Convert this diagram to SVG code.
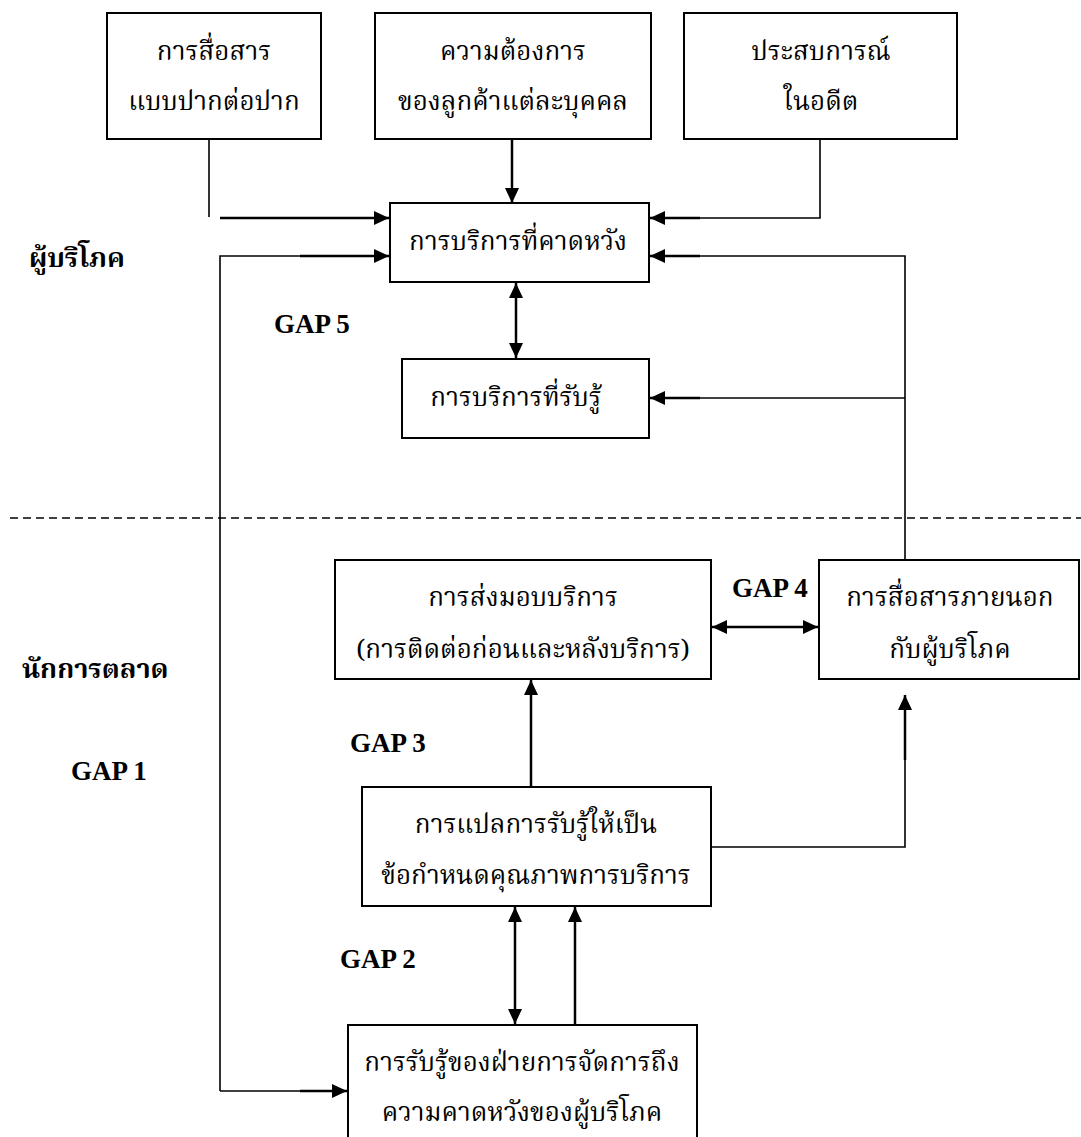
<svg xmlns="http://www.w3.org/2000/svg" width="1081" height="1137" viewBox="0 0 1081 1137">
<style>
.box{fill:#fff;stroke:#000;stroke-width:2}
.t{font-family:'Noto Serif Thai','Noto Sans Thai','Loma','Garuda','Liberation Serif',serif;font-size:26px;fill:#000;text-anchor:middle}
.lb{font-family:'Noto Serif Thai','Noto Sans Thai','Loma','Garuda','Liberation Serif',serif;font-size:27px;font-weight:bold;fill:#000}
.gap{font-family:'Liberation Serif',serif;font-size:27px;font-weight:bold;fill:#000}
.c{fill:none;stroke:#000;stroke-width:2.5}
.thin{fill:none;stroke:#000;stroke-width:1.6}
</style>
<defs>
<marker id="ah" markerUnits="userSpaceOnUse" markerWidth="15" markerHeight="14" refX="15" refY="7" orient="auto-start-reverse" viewBox="0 0 15 14">
<path d="M0,0 L15,7 L0,14 z" fill="#000"/>
</marker>
</defs>
<line x1="10" y1="518" x2="1081" y2="518" stroke="#000" stroke-width="1.5" stroke-dasharray="8 5"/>
<g id="labels">
<text class="lb" x="29" y="267">ผู้บริโภค</text>
<text class="lb" x="22" y="678">นักการตลาด</text>
<text class="gap" x="274" y="333">GAP 5</text>
<text class="gap" x="732" y="597">GAP 4</text>
<text class="gap" x="350" y="752">GAP 3</text>
<text class="gap" x="71" y="780">GAP 1</text>
<text class="gap" x="340" y="968">GAP 2</text>
</g>
<g id="connectors">
<line class="thin" x1="209" y1="139" x2="209" y2="217"/>
<line class="c" x1="220" y1="218" x2="389" y2="218" marker-end="url(#ah)"/>
<line class="c" x1="512" y1="139" x2="512" y2="203" marker-end="url(#ah)"/>
<polyline class="thin" points="820,139 820,218 700,218"/>
<line class="c" x1="700" y1="218" x2="650" y2="218" marker-end="url(#ah)"/>
<polyline class="thin" points="220,1091 220,256 300,256"/>
<line class="c" x1="300" y1="256" x2="389" y2="256" marker-end="url(#ah)"/>
<line class="thin" x1="220" y1="1091" x2="300" y2="1091"/>
<line class="c" x1="300" y1="1091" x2="347" y2="1091" marker-end="url(#ah)"/>
<polyline class="thin" points="905,560 905,256 700,256"/>
<line class="c" x1="700" y1="256" x2="650" y2="256" marker-end="url(#ah)"/>
<line class="thin" x1="905" y1="398" x2="700" y2="398"/>
<line class="c" x1="700" y1="398" x2="650" y2="398" marker-end="url(#ah)"/>
<line class="c" x1="516" y1="283" x2="516" y2="358" marker-start="url(#ah)" marker-end="url(#ah)"/>
<line class="c" x1="712" y1="627" x2="818" y2="627" marker-start="url(#ah)" marker-end="url(#ah)"/>
<line class="c" x1="531" y1="786" x2="531" y2="680" marker-end="url(#ah)"/>
<polyline class="thin" points="712,847 905,847 905,760"/>
<line class="c" x1="905" y1="760" x2="905" y2="695" marker-end="url(#ah)"/>
<line class="c" x1="515" y1="907" x2="515" y2="1024" marker-start="url(#ah)" marker-end="url(#ah)"/>
<line class="c" x1="575" y1="1024" x2="575" y2="907" marker-end="url(#ah)"/>
</g>
<g id="n-wordofmouth">
<rect class="box" x="107" y="13" width="214" height="126"/>
<text class="t" x="214" y="60">การสื่อสาร</text>
<text class="t" x="214" y="110">แบบปากต่อปาก</text>
</g>
<g id="n-needs">
<rect class="box" x="375" y="13" width="276" height="126"/>
<text class="t" x="513" y="60">ความต้องการ</text>
<text class="t" x="513" y="110">ของลูกค้าแต่ละบุคคล</text>
</g>
<g id="n-past">
<rect class="box" x="684" y="13" width="273" height="126"/>
<text class="t" x="821" y="60">ประสบการณ์</text>
<text class="t" x="821" y="110">ในอดีต</text>
</g>
<g id="n-expected">
<rect class="box" x="390" y="203" width="259" height="79"/>
<text class="t" x="518" y="250">การบริการที่คาดหวัง</text>
</g>
<g id="n-perceived">
<rect class="box" x="402" y="359" width="247" height="79"/>
<text class="t" x="516" y="406">การบริการที่รับรู้</text>
</g>
<g id="n-delivery">
<rect class="box" x="335" y="560" width="376" height="119"/>
<text class="t" x="523" y="606">การส่งมอบบริการ</text>
<text class="t" x="523" y="658">(การติดต่อก่อนและหลังบริการ)</text>
</g>
<g id="n-external">
<rect class="box" x="819" y="560" width="260" height="119"/>
<text class="t" x="950" y="606">การสื่อสารภายนอก</text>
<text class="t" x="950" y="658">กับผู้บริโภค</text>
</g>
<g id="n-translation">
<rect class="box" x="362" y="787" width="349" height="119"/>
<text class="t" x="536" y="833">การแปลการรับรู้ให้เป็น</text>
<text class="t" x="536" y="884">ข้อกำหนดคุณภาพการบริการ</text>
</g>
<g id="n-mgmt">
<rect class="box" x="348" y="1025" width="349" height="130"/>
<text class="t" x="522" y="1071">การรับรู้ของฝ่ายการจัดการถึง</text>
<text class="t" x="522" y="1121">ความคาดหวังของผู้บริโภค</text>
</g>
</svg>
